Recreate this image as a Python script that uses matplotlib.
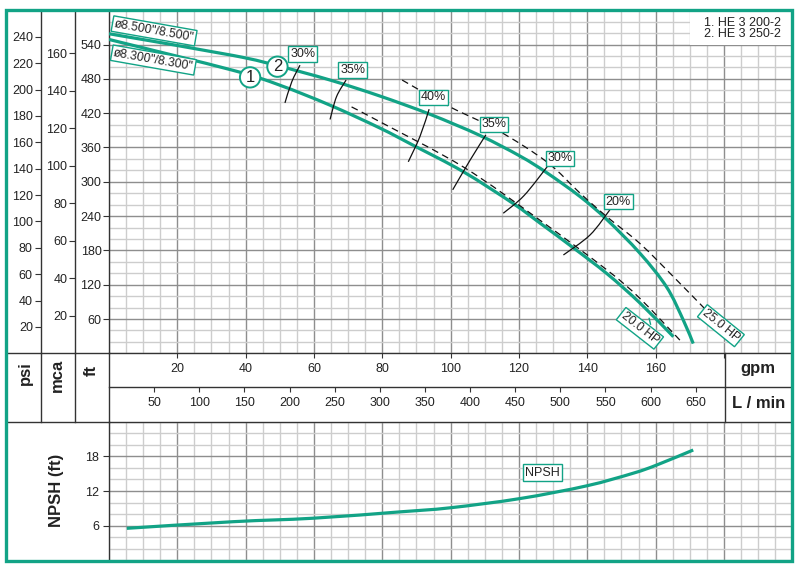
import numpy as np
import matplotlib
matplotlib.use('Agg')
import matplotlib.pyplot as plt
from matplotlib.patches import Rectangle, PathPatch
from matplotlib.lines import Line2D
from matplotlib.path import Path

plt.rcParams['font.family'] = ['Liberation Sans', 'DejaVu Sans']

TEAL = '#12a386'
DARK = '#333333'
TXT = '#222222'

# ---------------- data ----------------
curve1_gpm = [0, 36.3, 50, 64.7, 79.3, 89, 103.6, 118.3, 126.1, 135.8, 145.8, 155.4, 165.2]
curve1_ft = [549, 495, 469, 434, 394, 364, 318, 262, 228, 185, 139, 88, 29]
curve2_gpm = [0, 36.3, 50, 64.7, 79.3, 94, 108.6, 120.3, 128.1, 137.9, 145.7, 155.4, 163.2, 168.1, 171]
curve2_ft = [559, 521, 502, 478, 450, 418, 381, 345, 316, 274, 234, 175, 116, 58, 17]

hp20_gpm = [71.0, 79.3, 103.7, 126.1, 145.7, 155.4, 167.1]
hp20_ft = [431, 405, 326, 233, 146, 96, 23]
hp25_gpm = [85.8, 98.8, 113.5, 128.1, 137.9, 145.7, 155.4, 165.2, 174.7]
hp25_ft = [478, 434, 391, 335, 280, 239, 192, 134, 76]

eff_labels = ['30%', '35%', '40%', '35%', '30%', '20%']
eff_label_gpm = [56.7, 71.3, 94.9, 112.7, 132.0, 149.1]
eff_label_ft = [523.5, 495.5, 447.8, 400.6, 341.1, 265.2]
eff_arc_gpm = [[51.5, 53.5, 55.9], [64.7, 66.6, 69.4], [87.6, 91.0, 93.7],
               [100.6, 105.7, 110.3], [115.4, 121.5, 128.6], [133.0, 140.8, 146.6]]
eff_arc_ft = [[438, 475, 504], [409, 449, 478], [335, 379, 427],
              [286, 338, 382], [245, 276, 329], [172, 207, 251]]

npsh_gpm = [5.2, 36.4, 59.8, 85.2, 99.8, 120.3, 139.8, 153.5, 160.3, 171]
npsh_ft = [5.55, 6.7, 7.3, 8.4, 9.1, 10.7, 12.9, 15.1, 16.5, 19.1]

gpm_ticks = [20, 40, 60, 80, 100, 120, 140, 160, 180]
gpm_labels = ['20', '40', '60', '80', '100', '120', '140', '160', '']
lmin_ticks = [50, 100, 150, 200, 250, 300, 350, 400, 450, 500, 550, 600, 650]
ft_ticks = [60, 120, 180, 240, 300, 360, 420, 480, 540]
psi_ticks = [20, 40, 60, 80, 100, 120, 140, 160, 180, 200, 220, 240]
mca_ticks = [20, 40, 60, 80, 100, 120, 140, 160]
npsh_ticks = [6, 12, 18]

legend_lines = ['1. HE 3 200-2', '2. HE 3 250-2']
dia_labels = ['ø8.500"/8.500"', 'ø8.300"/8.300"']

FT_PER_PSI = 2.307
FT_PER_M = 3.281
LMIN_PER_GPM = 3.785

# ---------------- layout ----------------
W, H = 800, 568
fig = plt.figure(figsize=(W / 100, H / 100), dpi=100)


def fx(x):
    return x / W


def fy(y):
    return 1 - y / H


def smooth(a, xs, ys, **kw):
    """Draw a smooth (Catmull-Rom as Bezier) curve through the given points."""
    pts = np.column_stack([xs, ys]).astype(float)
    n = len(pts)
    verts = [pts[0]]
    codes = [Path.MOVETO]
    for i in range(n - 1):
        p0 = pts[i - 1] if i > 0 else pts[i]
        p1 = pts[i]
        p2 = pts[i + 1]
        p3 = pts[i + 2] if i + 2 < n else pts[i + 1]
        verts += [p1 + (p2 - p0) / 6, p2 - (p3 - p1) / 6, p2]
        codes += [Path.CURVE4] * 3
    a.add_patch(PathPatch(Path(verts, codes), fill=False, **kw))


X0, X1 = 109, 792.3
YT, YB = 10.3, 353.3
NYT, NYB = 421.7, 560.4

ax = fig.add_axes([fx(X0), fy(YB), (X1 - X0) / W, (YB - YT) / H])
axn = fig.add_axes([fx(X0), fy(NYB), (X1 - X0) / W, (NYB - NYT) / H])

MINOR_C = '#cdcdcd'
MAJOR_C = '#8e8e8e'

for a in (ax, axn):
    a.set_xlim(0, 200)
    a.set_axisbelow(True)
    a.set_xticks(np.arange(0, 201, 5), minor=True)
    a.grid(which='minor', color=MINOR_C, lw=1.0)
    a.grid(which='major', color=MAJOR_C, lw=1.0)
    a.tick_params(which='minor', length=0)
    for s in a.spines.values():
        s.set_color(DARK)
        s.set_linewidth(1.0)
    a.spines['right'].set_visible(False)

# main axes
ax.set_ylim(0, 600)
ax.set_xticks(gpm_ticks)
ax.set_xticklabels(gpm_labels)
ax.set_yticks(ft_ticks)
ax.set_yticks(np.arange(0, 601, 20), minor=True)
ax.spines['top'].set_visible(False)
ax.tick_params(axis='x', which='major', direction='out', length=3.6, width=0.8,
               pad=3.3, labelsize=9, color=DARK, labelcolor=TXT)
ax.tick_params(axis='y', which='major', direction='out', length=4.2, width=0.8,
               pad=1.2, labelsize=9, color=DARK, labelcolor=TXT)

# psi and mca axes
sec_psi = ax.secondary_yaxis(-(X0 - 40.5) / (X1 - X0),
                             functions=(lambda f: f / FT_PER_PSI, lambda p: p * FT_PER_PSI))
sec_psi.set_yticks(psi_ticks)
sec_mca = ax.secondary_yaxis(-(X0 - 75) / (X1 - X0),
                             functions=(lambda f: f / FT_PER_M, lambda m: m * FT_PER_M))
sec_mca.set_yticks(mca_ticks)
for s in (sec_psi, sec_mca):
    s.tick_params(direction='out', length=4.5, width=0.8, pad=1.0, labelsize=9,
                  color=DARK, labelcolor=TXT)
    s.spines['left'].set_color(DARK)
    s.spines['left'].set_linewidth(1.0)

# L/min axis
sec_l = ax.secondary_xaxis(-(387.3 - YB) / (YB - YT),
                           functions=(lambda g: g * LMIN_PER_GPM, lambda l: l / LMIN_PER_GPM))
sec_l.set_xticks(lmin_ticks)
sec_l.tick_params(direction='out', length=3.6, width=0.8, pad=3.3, labelsize=9,
                  color=DARK, labelcolor=TXT)
sec_l.spines['bottom'].set_color(DARK)
sec_l.spines['bottom'].set_linewidth(1.0)

# curves
smooth(ax, curve1_gpm, curve1_ft, ec=TEAL, lw=2.3, zorder=3, capstyle='butt')
smooth(ax, curve2_gpm, curve2_ft, ec=TEAL, lw=2.3, zorder=3, capstyle='butt')
smooth(ax, hp20_gpm, hp20_ft, ec='#111111', lw=0.9, ls=(0, (5.5, 3.6)), zorder=3)
smooth(ax, hp25_gpm, hp25_ft, ec='#111111', lw=0.9, ls=(0, (5.5, 3.6)), zorder=3)

lab_kw = dict(boxstyle='square,pad=0.14', fc='white', ec=TEAL, lw=1.0)
for gx, fy_, lab, lx, ly in zip(eff_arc_gpm, eff_arc_ft, eff_labels, eff_label_gpm, eff_label_ft):
    smooth(ax, gx, fy_, ec='#111111', lw=0.9, zorder=3)
    ax.text(lx, ly, lab, ha='center', va='center', fontsize=9, color=TXT, zorder=6, bbox=lab_kw)

box_kw = dict(boxstyle='square,pad=0.15', fc='white', ec=TEAL, lw=1.0)
ax.text(13.2, 564, dia_labels[0], rotation=-10, ha='center', va='center', fontsize=8.7,
        color=TXT, zorder=6, bbox=box_kw, rotation_mode='anchor')
ax.text(13.0, 513, dia_labels[1], rotation=-10, ha='center', va='center', fontsize=8.7,
        color=TXT, zorder=6, bbox=box_kw, rotation_mode='anchor')

circ_kw = dict(boxstyle='circle,pad=0.16', fc='white', ec=TEAL, lw=1.4)
ax.text(41.3, 482.7, '1', ha='center', va='center', fontsize=12, color=TXT, zorder=6, bbox=circ_kw)
ax.text(49.3, 501.4, '2', ha='center', va='center', fontsize=12, color=TXT, zorder=6, bbox=circ_kw)

ax.plot([158.1, 158.5], [61, 51], color=TEAL, lw=1.0, zorder=5)
ax.text(155.4, 43.7, '20.0 HP', rotation=-38, ha='center', va='center', fontsize=8.7,
        color=TXT, zorder=6, bbox=box_kw, rotation_mode='anchor')
ax.text(179.1, 48.3, '25.0 HP', rotation=-39, ha='center', va='center', fontsize=8.7,
        color=TXT, zorder=6, bbox=box_kw, rotation_mode='anchor')

# legend block
ax.add_patch(Rectangle((170, 540), 30, 60, fc='white', ec='none', zorder=1))
ax.text(196.7, 578, legend_lines[0], ha='right', va='center', fontsize=9, color=TXT, zorder=6)
ax.text(196.7, 558, legend_lines[1], ha='right', va='center', fontsize=9, color=TXT, zorder=6)

# NPSH axes
axn.set_ylim(0, 24)
axn.set_xticks(gpm_ticks)
axn.set_yticks(npsh_ticks)
axn.set_yticks(np.arange(0, 25, 2), minor=True)
axn.set_xticklabels([])
axn.spines['bottom'].set_visible(False)
axn.tick_params(axis='x', which='major', length=0)
axn.tick_params(axis='y', which='major', direction='out', length=4.2, width=0.8,
                pad=3.0, labelsize=9, color=DARK, labelcolor=TXT)
smooth(axn, npsh_gpm, npsh_ft, ec=TEAL, lw=2.3, zorder=3, capstyle='butt')
axn.text(126.9, 15.2, 'NPSH', ha='center', va='center', fontsize=9, color=TXT, zorder=6,
         bbox=dict(boxstyle='square,pad=0.2', fc='white', ec=TEAL, lw=1.0))

# band lines
def fline(x0, y0, x1, y1):
    fig.add_artist(Line2D([fx(x0), fx(x1)], [fy(y0), fy(y1)], transform=fig.transFigure,
                          color=DARK, lw=1.0, zorder=4))


fline(6, YB, X0, YB)
fline(6, NYT, X0, NYT)
fline(40.5, YB, 40.5, NYT)
fline(75, YB, 75, NYT)
fline(X0, YB, X0, NYT)
fline(725, YB, 725, NYT)

bold = dict(fontsize=12, fontweight='bold', color=TXT, ha='center', va='center')
fig.text(fx(25), fy(373), 'psi', rotation=90, **bold)
fig.text(fx(57.5), fy(375), 'mca', rotation=90, **bold)
fig.text(fx(91), fy(370), 'ft', rotation=90, **bold)
fig.text(fx(758), fy(368), 'gpm', **bold)
fig.text(fx(759), fy(404), 'L / min', **bold)
fig.text(fx(57), fy(490), 'NPSH (ft)', rotation=90, **bold)

# green frame
fig.add_artist(Rectangle((fx(6), fy(561)), (792 - 6) / W, (561 - 10) / H,
                         transform=fig.transFigure, fill=False, ec=TEAL, lw=2.4, zorder=10))

fig.savefig('out.png', dpi=100)
